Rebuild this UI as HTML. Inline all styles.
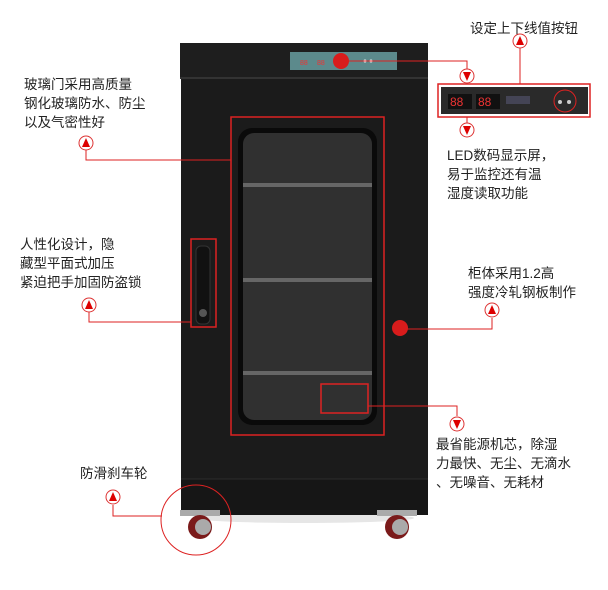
<!DOCTYPE html>
<html><head><meta charset="utf-8"><style>
html,body{margin:0;padding:0;background:#fff;}
svg{display:block}
text{font-family:"Liberation Sans","Noto Sans CJK SC",sans-serif;font-size:13.5px;fill:#222}
</style></head><body>
<svg width="608" height="590" viewBox="0 0 608 590" xmlns="http://www.w3.org/2000/svg">
<defs>
<g id="au"><circle r="7" fill="#fff" stroke="#d33" stroke-width="1"/><path d="M0,-5 L-4,4 L4,4 Z" fill="#d00"/></g>
<g id="ad"><circle r="7" fill="#fff" stroke="#d33" stroke-width="1"/><path d="M0,5 L-4,-4 L4,-4 Z" fill="#d00"/></g>
</defs>
<!-- cabinet -->
<ellipse cx="304" cy="518" rx="110" ry="5" fill="#e6e6e6"/>
<rect x="180" y="43" width="248" height="34" fill="#1e1e1e"/>
<rect x="180" y="77" width="248" height="2" fill="#333"/>
<rect x="181" y="79" width="247" height="400" fill="#1b1b1b"/>
<rect x="181" y="479" width="247" height="36" fill="#161616"/>
<line x1="181" y1="479" x2="428" y2="479" stroke="#2c2c2c"/>
<rect x="290" y="52" width="107" height="18" fill="#5c8a8c"/>
<text x="300" y="65" style="font-size:7px;fill:#e33">88</text><text x="317" y="65" style="font-size:7px;fill:#e33">88</text>
<circle cx="365" cy="61" r="1.5" fill="#fff"/><circle cx="371" cy="61" r="1.5" fill="#fff"/>
<!-- glass -->
<rect x="238" y="128" width="139" height="297" rx="14" fill="#0a0a0a"/>
<rect x="243" y="133" width="129" height="287" rx="11" fill="#303030"/>
<rect x="243" y="183" width="129" height="4" fill="#666"/>
<rect x="243" y="278" width="129" height="4" fill="#666"/>
<rect x="243" y="371" width="129" height="4" fill="#666"/>
<!-- handle -->
<rect x="196" y="246" width="14" height="78" rx="5" fill="#111" stroke="#333"/>
<circle cx="203" cy="313" r="4" fill="#555"/>
<!-- wheels -->
<rect x="180" y="510" width="40" height="6" fill="#aaa"/>
<circle cx="200" cy="527" r="12" fill="#7a1a1a"/><circle cx="203" cy="527" r="8" fill="#aaa"/>
<rect x="377" y="510" width="40" height="6" fill="#aaa"/>
<circle cx="397" cy="527" r="12" fill="#7a1a1a"/><circle cx="400" cy="527" r="8" fill="#aaa"/>
<!-- red frames -->
<g fill="none" stroke="#d22" stroke-width="1.5">
<rect x="231" y="117" width="153" height="318"/>
<rect x="191" y="239" width="25" height="88"/>
<rect x="321" y="384" width="47" height="29"/>
<circle cx="196" cy="520" r="35" stroke-width="1"/>
<rect x="438" y="84" width="152" height="33"/>
</g>
<g fill="none" stroke="#d22" stroke-width="1">
<polyline points="341,61 467,61 467,70"/>
<line x1="520" y1="47" x2="520" y2="84"/>
<line x1="467" y1="117" x2="467" y2="124"/>
<polyline points="86,150 86,160 231,160"/>
<polyline points="89,312 89,322 191,322"/>
<polyline points="400,329 492,329 492,318"/>
<polyline points="368,406 457,406 457,416"/>
<polyline points="113,505 113,516 162,516"/>
</g>
<!-- right panel -->
<rect x="441" y="87" width="147" height="27" fill="#2a2a2a"/>
<rect x="448" y="94" width="24" height="15" fill="#111"/><text x="450" y="106" style="font-size:12px;fill:#e33">88</text>
<rect x="476" y="94" width="24" height="15" fill="#111"/><text x="478" y="106" style="font-size:12px;fill:#e33">88</text>
<rect x="506" y="96" width="24" height="8" fill="#445"/>
<circle cx="565" cy="101" r="11" fill="none" stroke="#d22"/>
<circle cx="560" cy="102" r="2" fill="#ccc"/><circle cx="569" cy="102" r="2" fill="#ccc"/>
<circle cx="341" cy="61" r="8" fill="#d81c1c"/>
<circle cx="400" cy="328" r="8" fill="#d81c1c"/>
<use href="#ad" x="467" y="76"/>
<use href="#au" x="520" y="41"/>
<use href="#ad" x="467" y="130"/>
<use href="#au" x="86" y="143"/>
<use href="#au" x="89" y="305"/>
<use href="#au" x="492" y="310"/>
<use href="#ad" x="457" y="424"/>
<use href="#au" x="113" y="497"/>
<!-- labels -->
<text x="470" y="33">设定上下线值按钮</text>
<text x="24" y="89">玻璃门采用高质量</text>
<text x="24" y="108">钢化玻璃防水、防尘</text>
<text x="24" y="127">以及气密性好</text>
<text x="20" y="249">人性化设计，隐</text>
<text x="20" y="268">藏型平面式加压</text>
<text x="20" y="287">紧迫把手加固防盗锁</text>
<text x="447" y="160">LED数码显示屏，</text>
<text x="447" y="179">易于监控还有温</text>
<text x="447" y="198">湿度读取功能</text>
<text x="468" y="278">柜体采用1.2高</text>
<text x="468" y="297">强度冷轧钢板制作</text>
<text x="436" y="449">最省能源机芯，除湿</text>
<text x="436" y="468">力最快、无尘、无滴水</text>
<text x="436" y="487">、无噪音、无耗材</text>
<text x="80" y="478">防滑刹车轮</text>
</svg>
</body></html>
